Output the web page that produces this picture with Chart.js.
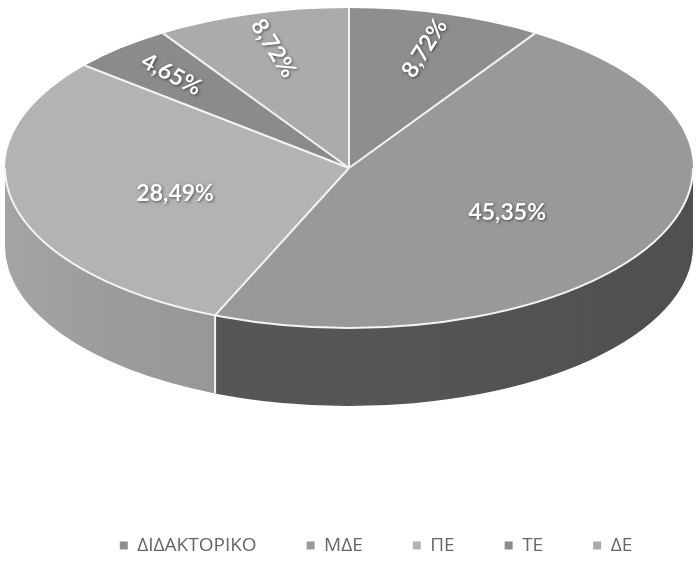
<!DOCTYPE html>
<html>
<head>
<meta charset="utf-8">
<script src="https://cdn.jsdelivr.net/npm/chart.js@4.4.1/dist/chart.umd.min.js"></script>
<style>
  html, body { margin: 0; padding: 0; background: #fff; }
  #wrap { width: 696px; height: 565px; }
</style>
</head>
<body>
<div id="wrap"><canvas id="pieChart" width="696" height="565"></canvas></div>
<script>
const categories = ['ΔΙΔΑΚΤΟΡΙΚΟ', 'ΜΔΕ', 'ΠΕ', 'ΤΕ', 'ΔΕ'];
const percentages = [8.72, 45.35, 28.49, 4.65, 8.72];

const topColors = ['#8e8e8e', '#999999', '#b3b3b3', '#8b8b8b', '#ababab'];
const sideColors = ['#6a6a6a', '#565656', '#9a9a9a', '#686868', '#8c8c8c'];

// where the flat pie gets squashed to (fake 3d)
const CX = 349, CY = 168, RX = 344, RY = 160, DEPTH = 78;

function fmt(v) {
    return v.toFixed(2).replace('.', ',') + '%';
}

function ellPt(a, dy) {
    return [CX + RX * Math.cos(a), CY + RY * Math.sin(a) + (dy || 0)];
}

const pie3d = {
    id: 'pie3d',
    beforeDatasetsDraw(chart) {
        const ctx = chart.ctx;
        const arcs = chart.getDatasetMeta(0).data;
        const a0 = arcs[0];

        // side walls, only the front half (0..PI) shows
        arcs.forEach((arc, i) => {
            const s = Math.max(arc.startAngle, 0);
            const e = Math.min(arc.endAngle, Math.PI);
            if (e <= s) return;
            ctx.save();
            ctx.beginPath();
            ctx.ellipse(CX, CY, RX, RY, 0, s, e);
            const p = ellPt(e, DEPTH);
            ctx.lineTo(p[0], p[1]);
            ctx.ellipse(CX, CY + DEPTH, RX, RY, 0, e, s, true);
            ctx.closePath();
            ctx.fillStyle = sideColors[i];
            ctx.fill();
            const g = ctx.createLinearGradient(CX - RX, 0, CX + RX, 0);
            g.addColorStop(0, 'rgba(255,255,255,0.10)');
            g.addColorStop(0.5, 'rgba(0,0,0,0)');
            g.addColorStop(1, 'rgba(0,0,0,0.08)');
            ctx.fillStyle = g;
            ctx.fill();
            ctx.restore();
        });

        // white edges on the wall where slices meet
        ctx.save();
        ctx.strokeStyle = '#f4f4f4';
        ctx.lineWidth = 2;
        arcs.forEach(arc => {
            const a = arc.startAngle;
            if (a > 0 && a < Math.PI) {
                const p = ellPt(a, 0);
                ctx.beginPath();
                ctx.moveTo(p[0], p[1]);
                ctx.lineTo(p[0], p[1] + DEPTH);
                ctx.stroke();
            }
        });
        ctx.restore();

        ctx.save();
        ctx.translate(CX, CY);
        ctx.scale(RX / a0.outerRadius, RY / a0.outerRadius);
        ctx.translate(-a0.x, -a0.y);
    },
    afterDatasetsDraw(chart) {
        const ctx = chart.ctx;
        ctx.restore();
        const arcs = chart.getDatasetMeta(0).data;

        // slice borders on the top face
        ctx.save();
        ctx.strokeStyle = '#f4f4f4';
        ctx.lineWidth = 2;
        arcs.forEach(arc => {
            const p = ellPt(arc.startAngle, 0);
            ctx.beginPath();
            ctx.moveTo(CX, CY);
            ctx.lineTo(p[0], p[1]);
            ctx.stroke();
        });
        ctx.beginPath();
        ctx.ellipse(CX, CY, RX, RY, 0, 0, Math.PI);
        ctx.stroke();
        ctx.restore();

        // percentage labels
        ctx.save();
        ctx.font = 'bold 23px Lato';
        ctx.fillStyle = '#ffffff';
        ctx.textAlign = 'center';
        ctx.textBaseline = 'middle';
        ctx.shadowColor = 'rgba(0,0,0,0.55)';
        ctx.shadowBlur = 3;
        ctx.shadowOffsetX = 1;
        ctx.shadowOffsetY = 1;
        arcs.forEach((arc, i) => {
            const m = (arc.startAngle + arc.endAngle) / 2;
            const small = (arc.endAngle - arc.startAngle) < Math.PI * 0.2;
            const f = small ? 0.78 : 0.52;
            const x = CX + RX * f * Math.cos(m);
            const y = CY + RY * f * Math.sin(m) + (small ? 0 : 6);
            ctx.save();
            ctx.translate(x, y);
            if (small) {
                let r = Math.atan2(y - CY, x - CX);
                if (r < -Math.PI / 2) r += Math.PI;
                if (r > Math.PI / 2) r -= Math.PI;
                ctx.rotate(r);
            }
            ctx.fillText(fmt(percentages[i]), 0, 0);
            ctx.restore();
        });
        ctx.restore();
    }
};

new Chart(document.getElementById('pieChart'), {
    type: 'pie',
    data: {
        labels: categories,
        datasets: [{
            data: percentages,
            backgroundColor: topColors,
            borderWidth: 0,
            clip: false
        }]
    },
    options: {
        responsive: false,
        animation: false,
        events: [],
        layout: { padding: { top: 10, bottom: 0, left: 56 } },
        plugins: {
            tooltip: { enabled: false },
            legend: {
                position: 'bottom',
                labels: {
                    boxWidth: 8,
                    boxHeight: 8,
                    padding: 50,
                    color: '#666666',
                    font: { family: 'Open Sans', size: 19 }
                }
            }
        }
    },
    plugins: [pie3d]
});
</script>
</body>
</html>
